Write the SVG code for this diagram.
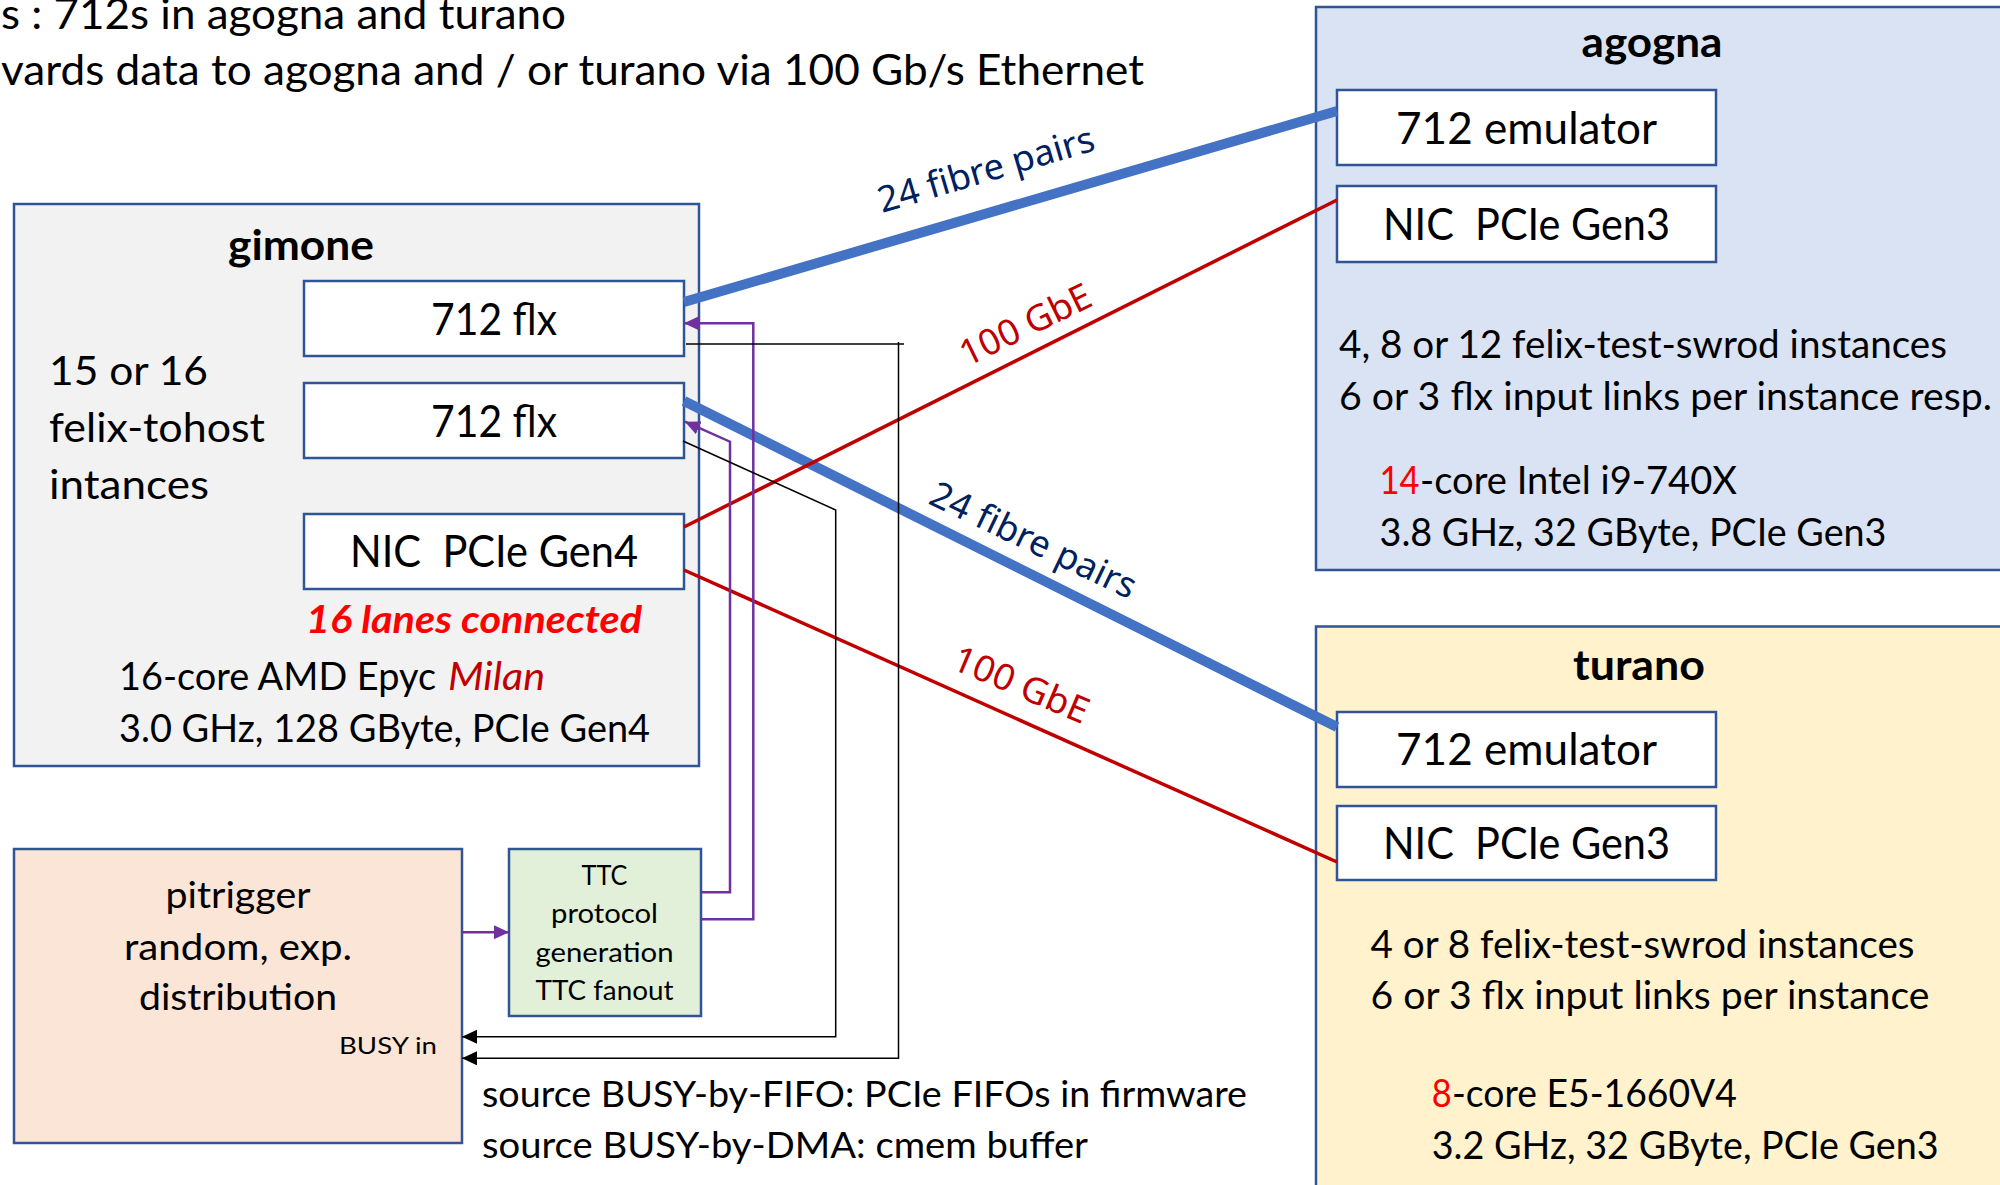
<svg xmlns="http://www.w3.org/2000/svg" width="2000" height="1185" viewBox="0 0 2000 1185">
<defs>
<style>
.t{font-family:Lato,"Liberation Sans",sans-serif;fill:#000}
.b{font-weight:bold}
.mid{text-anchor:middle}
.pre{white-space:pre}
.outer{stroke:#2f5597;stroke-width:2.5}
.inner{fill:#fff;stroke:#2f5597;stroke-width:2.5}
.lbl{font-family:"Noto Sans","Open Sans",sans-serif;font-size:36px}
.fibre{stroke:#4472c4;stroke-width:10;fill:none}
.eth{stroke:#c00000;stroke-width:3.5;fill:none}
.ttc{stroke:#7030a0;stroke-width:2.5;fill:none}
.busy{stroke:#000;stroke-width:1.5;fill:none}
</style>
<marker id="ap" markerUnits="userSpaceOnUse" markerWidth="16" markerHeight="16" viewBox="0 0 16 16" refX="15" refY="7" orient="auto"><path d="M0,0 L15,7 L0,14 z" fill="#7030a0"/></marker>
<marker id="ak" markerUnits="userSpaceOnUse" markerWidth="16" markerHeight="16" viewBox="0 0 16 16" refX="15" refY="7" orient="auto"><path d="M0,0 L15,7 L0,14 z" fill="#000"/></marker>
</defs>
<rect width="2000" height="1185" fill="#fff"/>

<g id="header">
<text class="t" x="1" y="29" font-size="43" textLength="565" lengthAdjust="spacingAndGlyphs">s : 712s in agogna and turano</text>
<text class="t" x="1" y="85" font-size="43" textLength="1143" lengthAdjust="spacingAndGlyphs">vards data to agogna and / or turano via 100 Gb/s Ethernet</text>
</g>

<g id="gimone">
<rect class="outer" x="14" y="204" width="685" height="562" fill="#f2f2f2"/>
<text class="t b mid" x="301" y="260" font-size="42" textLength="146" lengthAdjust="spacingAndGlyphs">gimone</text>
<text class="t" x="49" y="385" font-size="40" textLength="159" lengthAdjust="spacingAndGlyphs">15 or 16</text>
<text class="t" x="49" y="442" font-size="40" textLength="216" lengthAdjust="spacingAndGlyphs">felix-tohost</text>
<text class="t" x="49" y="499" font-size="40" textLength="160" lengthAdjust="spacingAndGlyphs">intances</text>
<g id="gimone-flx1">
<rect class="inner" x="304" y="281" width="380" height="75"/>
<text class="t mid" x="494" y="335" font-size="44" textLength="126" lengthAdjust="spacingAndGlyphs">712 flx</text>
</g>
<g id="gimone-flx2">
<rect class="inner" x="304" y="383" width="380" height="75"/>
<text class="t mid" x="494" y="437" font-size="44" textLength="126" lengthAdjust="spacingAndGlyphs">712 flx</text>
</g>
<g id="gimone-nic">
<rect class="inner" x="304" y="514" width="380" height="75"/>
<text class="t mid pre" x="494" y="567" font-size="44" textLength="288" lengthAdjust="spacingAndGlyphs">NIC  PCIe Gen4</text>
</g>
<text class="t b" x="306" y="633" font-size="38" font-style="italic" style="fill:#ff0000" textLength="336" lengthAdjust="spacingAndGlyphs">16 lanes connected</text>
<text class="t" x="119" y="690" font-size="38" textLength="317" lengthAdjust="spacingAndGlyphs">16-core AMD Epyc</text>
<text class="t" x="448" y="690" font-size="38" font-style="italic" style="fill:#c00000" textLength="97" lengthAdjust="spacingAndGlyphs">Milan</text>
<text class="t" x="119" y="742" font-size="38" textLength="531" lengthAdjust="spacingAndGlyphs">3.0 GHz, 128 GByte, PCIe Gen4</text>
</g>

<g id="agogna">
<rect class="outer" x="1316" y="7" width="720" height="563" fill="#dae3f3"/>
<text class="t b mid" x="1652" y="57" font-size="42" textLength="141" lengthAdjust="spacingAndGlyphs">agogna</text>
<g id="agogna-emu">
<rect class="inner" x="1337" y="90" width="379" height="75"/>
<text class="t mid" x="1526.5" y="143.5" font-size="44" textLength="261" lengthAdjust="spacingAndGlyphs">712 emulator</text>
</g>
<g id="agogna-nic">
<rect class="inner" x="1337" y="186" width="379" height="76"/>
<text class="t mid pre" x="1526.5" y="239.5" font-size="44" textLength="287" lengthAdjust="spacingAndGlyphs">NIC  PCIe Gen3</text>
</g>
<text class="t" x="1339" y="358" font-size="38" textLength="608" lengthAdjust="spacingAndGlyphs">4, 8 or 12 felix-test-swrod instances</text>
<text class="t" x="1339" y="410" font-size="38" textLength="653" lengthAdjust="spacingAndGlyphs">6 or 3 flx input links per instance resp.</text>
<text class="t" x="1379.5" y="494" font-size="38" style="fill:#ff0000" textLength="40" lengthAdjust="spacingAndGlyphs">14</text>
<text class="t" x="1420" y="494" font-size="38" textLength="317" lengthAdjust="spacingAndGlyphs">-core Intel i9-740X</text>
<text class="t" x="1379.5" y="546" font-size="38" textLength="507" lengthAdjust="spacingAndGlyphs">3.8 GHz, 32 GByte, PCIe Gen3</text>
</g>

<g id="turano">
<rect class="outer" x="1316" y="626.5" width="720" height="600" fill="#fff2cc"/>
<text class="t b mid" x="1639" y="679.5" font-size="42" textLength="132" lengthAdjust="spacingAndGlyphs">turano</text>
<g id="turano-emu">
<rect class="inner" x="1337" y="712" width="379" height="75"/>
<text class="t mid" x="1526.5" y="765" font-size="44" textLength="261" lengthAdjust="spacingAndGlyphs">712 emulator</text>
</g>
<g id="turano-nic">
<rect class="inner" x="1337" y="806" width="379" height="74"/>
<text class="t mid pre" x="1526.5" y="858.5" font-size="44" textLength="287" lengthAdjust="spacingAndGlyphs">NIC  PCIe Gen3</text>
</g>
<text class="t" x="1370.5" y="958" font-size="38" textLength="544" lengthAdjust="spacingAndGlyphs">4 or 8 felix-test-swrod instances</text>
<text class="t" x="1370.5" y="1008.5" font-size="38" textLength="559" lengthAdjust="spacingAndGlyphs">6 or 3 flx input links per instance</text>
<text class="t" x="1431.7" y="1106.5" font-size="38" style="fill:#ff0000" textLength="20" lengthAdjust="spacingAndGlyphs">8</text>
<text class="t" x="1452" y="1106.5" font-size="38" textLength="285" lengthAdjust="spacingAndGlyphs">-core E5-1660V4</text>
<text class="t" x="1431.7" y="1158.7" font-size="38" textLength="507" lengthAdjust="spacingAndGlyphs">3.2 GHz, 32 GByte, PCIe Gen3</text>
</g>

<g id="pitrigger">
<rect class="outer" x="14" y="849" width="448" height="294" fill="#fbe5d6"/>
<text class="t mid" x="238" y="908" font-size="37" textLength="145" lengthAdjust="spacingAndGlyphs">pitrigger</text>
<text class="t mid" x="238" y="960" font-size="37" textLength="228" lengthAdjust="spacingAndGlyphs">random, exp.</text>
<text class="t mid" x="238" y="1010" font-size="37" textLength="198" lengthAdjust="spacingAndGlyphs">distribution</text>
<text class="t" x="339" y="1054" font-size="23" textLength="98" lengthAdjust="spacingAndGlyphs">BUSY in</text>
</g>

<g id="ttc">
<rect class="outer" x="509" y="849" width="192" height="167" fill="#e2f0d9"/>
<text class="t mid" x="604.5" y="885" font-size="26" textLength="46" lengthAdjust="spacingAndGlyphs">TTC</text>
<text class="t mid" x="604.5" y="923" font-size="26" textLength="107" lengthAdjust="spacingAndGlyphs">protocol</text>
<text class="t mid" x="604.5" y="962" font-size="26" textLength="138" lengthAdjust="spacingAndGlyphs">generation</text>
<text class="t mid" x="604.5" y="1000" font-size="26" textLength="138" lengthAdjust="spacingAndGlyphs">TTC fanout</text>
</g>

<g id="busy-notes">
<text class="t" x="482" y="1107" font-size="37" textLength="765" lengthAdjust="spacingAndGlyphs">source BUSY-by-FIFO: PCIe FIFOs in firmware</text>
<text class="t" x="482" y="1158" font-size="37" textLength="606" lengthAdjust="spacingAndGlyphs">source BUSY-by-DMA: cmem buffer</text>
</g>

<g id="connectors">
<path class="fibre" d="M684,302 L1337,111"/>
<path class="fibre" d="M684,401 L1337,727"/>
<path class="eth" d="M684,527 L1337,200"/>
<path class="eth" d="M684,570 L1337,862"/>
<path class="ttc" d="M700.7,919.3 H753.3 V323.3 H684" marker-end="url(#ap)"/>
<path class="ttc" d="M700.7,892.3 H730 V441.7 L685,421.7" marker-end="url(#ap)"/>
<path class="ttc" d="M462,932.3 H509" marker-end="url(#ap)"/>
<path class="busy" d="M686,344 H904"/>
<path class="busy" d="M898.5,342 V1058.3 H462" marker-end="url(#ak)"/>
<path class="busy" d="M683,441 L835.7,510 V1036.7 H462" marker-end="url(#ak)"/>
<text class="lbl" transform="translate(882,213) rotate(-16.4)" fill="#002060" textLength="224" lengthAdjust="spacingAndGlyphs">24 fibre pairs</text>
<text class="lbl" transform="translate(967,367) rotate(-26)" fill="#c00000" textLength="142" lengthAdjust="spacingAndGlyphs">100 GbE</text>
<text class="lbl" transform="translate(927,503) rotate(25.5)" fill="#002060" textLength="224" lengthAdjust="spacingAndGlyphs">24 fibre pairs</text>
<text class="lbl" transform="translate(950,668) rotate(23)" fill="#c00000" textLength="144" lengthAdjust="spacingAndGlyphs">100 GbE</text>
</g>
</svg>
